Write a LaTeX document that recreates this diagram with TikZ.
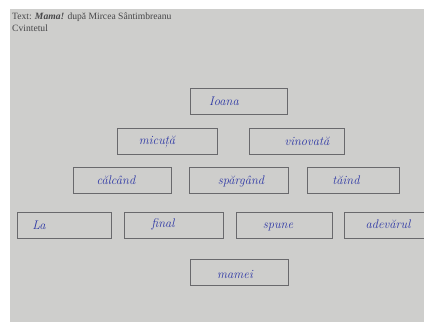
\documentclass[tikz,border=0pt]{standalone}
\usepackage{fontspec}
\setmainfont{Liberation Serif}
\newfontfamily\hand{Latin Modern Roman}
\definecolor{paper}{RGB}{206,206,204}
\definecolor{ink}{RGB}{45,55,165}
\definecolor{boxline}{RGB}{105,105,108}
\definecolor{print}{RGB}{70,70,72}
\begin{document}
\begin{tikzpicture}[x=1pt,y=-1pt,
  wordbox/.style={draw=boxline,line width=0.6pt,rectangle,inner sep=0pt,minimum height=26pt},
  word/.style={text=ink,font=\hand\itshape\fontsize{12.5}{14}\selectfont,inner sep=0pt}]
\useasboundingbox (0,0) rectangle (424,322);
\fill[white] (0,0) rectangle (424,322);
\fill[paper] (10,9) rectangle (424,322);
\node[anchor=base west,text=print,inner sep=0pt,font=\fontsize{9.6}{11}\selectfont] (t1) at (12,19.5) {Text: \textbf{\textit{Mama!}} după Mircea Sântimbreanu};
\node[anchor=base west,text=print,inner sep=0pt,font=\fontsize{9.6}{11}\selectfont] (t2) at (12,31.5) {Cvintetul};
% row 1
\node[wordbox,minimum width=97pt] (b1) at (238.5,101) {};
\node[word] (w1) at (224,101) {Ioana};
% row 2
\node[wordbox,minimum width=100pt] (b2) at (167,141) {};
\node[word] (w2) at (157,142) {micuță};
\node[wordbox,minimum width=95pt] (b3) at (296.5,141) {};
\node[word] (w3) at (307,141) {vinovată};
% row 3
\node[wordbox,minimum width=98pt] (b4) at (122,180) {};
\node[word] (w4) at (116,180) {călcând};
\node[wordbox,minimum width=99pt] (b5) at (238.5,180) {};
\node[word] (w5) at (241,181) {spărgând};
\node[wordbox,minimum width=92pt] (b6) at (353,180) {};
\node[word] (w6) at (346,180) {tăind};
% row 4
\node[wordbox,minimum width=94pt] (b7) at (64,225.5) {};
\node[word] (w7) at (39,225) {La};
\node[wordbox,minimum width=99pt] (b8) at (173.5,225.5) {};
\node[word] (w8) at (163,224) {final};
\node[wordbox,minimum width=96pt] (b9) at (284,225.5) {};
\node[word] (w9) at (278,227) {spune};
\node[wordbox,minimum width=82pt] (b10) at (385,225.5) {};
\node[word] (w10) at (388,224) {adevărul};
% row 5
\node[wordbox,minimum width=98pt] (b11) at (239,272) {};
\node[word] (w11) at (235,274) {mamei};
\end{tikzpicture}
\end{document}
